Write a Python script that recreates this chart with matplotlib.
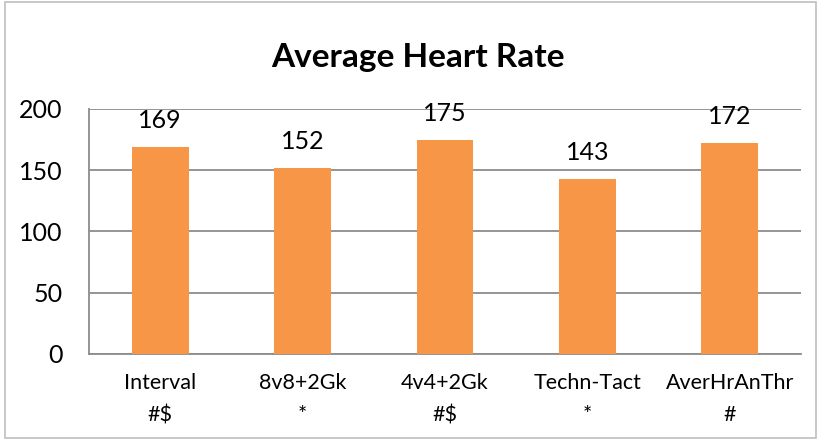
import matplotlib
matplotlib.use('Agg')
import matplotlib.pyplot as plt
import matplotlib.patches as mpatches
import numpy as np

plt.rcParams['font.family'] = ['Lato', 'DejaVu Sans']

categories = ['Interval\n#$', '8v8+2Gk\n*', '4v4+2Gk\n#$', 'Techn-Tact\n*', 'AverHrAnThr\n#']
heart_rate = [169, 152, 175, 143, 172]
yticks = [0, 50, 100, 150, 200]

BAR = '#F79646'
GRID = '#8C8C8C'

fig = plt.figure(figsize=(8.21, 4.40), dpi=100)
fig.patch.set_facecolor('white')
ax = fig.add_axes([0.1084, 0.1955, 0.8672, 0.5568])

x = np.arange(len(categories))
bars = ax.bar(x, heart_rate, width=0.4, color=BAR, zorder=3)

for b, v in zip(bars, heart_rate):
    ax.annotate(str(v), (b.get_x() + b.get_width() / 2, v), xytext=(0, 19),
                textcoords='offset points', ha='center', va='center', fontsize=18)

ax.set_xlim(-0.5, len(categories) - 0.5)
ax.set_ylim(0, 200)
ax.set_yticks(yticks)
ax.tick_params(axis='y', length=0, labelsize=18, pad=19)
ax.set_xticks(x)
ax.set_xticklabels(categories, fontsize=15.5, linespacing=1.75)
ax.tick_params(axis='x', length=0, pad=14)
ax.yaxis.grid(True, color=GRID, linewidth=1.3, zorder=0)
for s in ['top', 'right']:
    ax.spines[s].set_visible(False)
for s in ['left', 'bottom']:
    ax.spines[s].set_color(GRID)
    ax.spines[s].set_linewidth(1.3)

fig.text(0.509, 0.87, 'Average Heart Rate', ha='center', va='center',
         fontsize=24, fontweight='bold')

fig.add_artist(mpatches.Rectangle((0.006, 0.005), 0.988, 0.99, transform=fig.transFigure,
                                  fill=False, edgecolor='#BFBFBF', linewidth=1.2))

fig.savefig('out.png', dpi=100, facecolor='white')
